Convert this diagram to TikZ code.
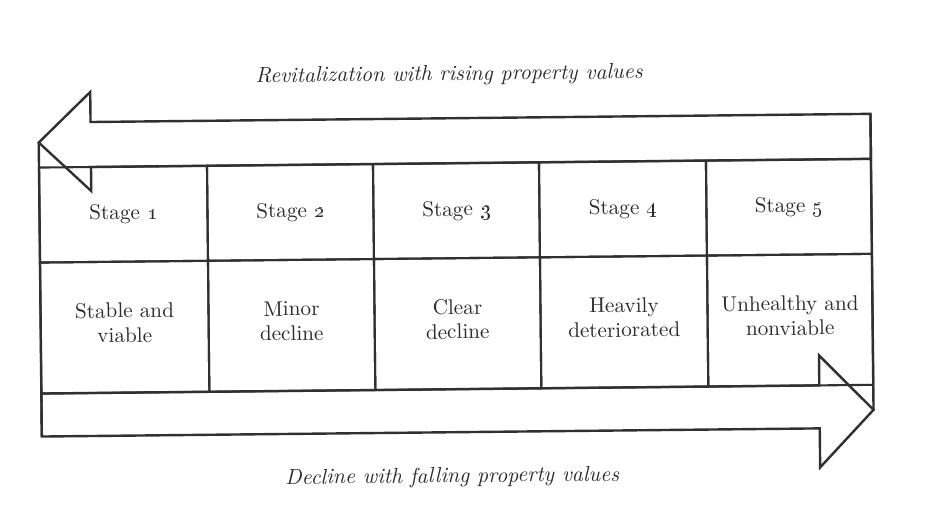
\documentclass[tikz,border=0pt]{standalone}
\definecolor{ink}{HTML}{303030}
\definecolor{txt}{HTML}{2C2C2C}
\begin{document}
\begin{tikzpicture}[x=1pt,y=-1pt,
  outline/.style={draw=ink,line width=2.4pt,line join=miter},
  cell/.style={draw=ink,line width=2.1pt,inner sep=0pt,outer sep=0pt},
  toprow/.style={cell,minimum height=95pt},
  botrow/.style={cell,minimum height=131pt},
  celltext/.style={align=center,text=txt,font=\fontsize{10}{11.6}\selectfont,scale=2.12,inner sep=0pt},
  caption/.style={font=\fontsize{10}{12}\selectfont\itshape,text=txt,scale=2.17,inner sep=0pt}]
\useasboundingbox[fill=white] (0,0) rectangle (948,525);
\begin{scope}[rotate around={0.6:(474,262)},transform shape]
  % cells
  \node[toprow,minimum width=168pt] (s1) at (124,210.5) {};
  \node[toprow,minimum width=166pt] (s2) at (291,210.5) {};
  \node[toprow,minimum width=166pt] (s3) at (457,210.5) {};
  \node[toprow,minimum width=167pt] (s4) at (623.5,210.5) {};
  \node[toprow,minimum width=165pt] (s5) at (789.5,210.5) {};
  \node[botrow,minimum width=168pt] (d1) at (124,323.5) {};
  \node[botrow,minimum width=166pt] (d2) at (291,323.5) {};
  \node[botrow,minimum width=166pt] (d3) at (457,323.5) {};
  \node[botrow,minimum width=167pt] (d4) at (623.5,323.5) {};
  \node[botrow,minimum width=165pt] (d5) at (789.5,323.5) {};
  % cell texts
  \node[celltext] (ts1) at (s1) {Stage \oldstylenums{1}};
  \node[celltext] (ts2) at (s2) {Stage \oldstylenums{2}};
  \node[celltext] (ts3) at (s3) {Stage \oldstylenums{3}};
  \node[celltext] (ts4) at (s4) {Stage \oldstylenums{4}};
  \node[celltext] (ts5) at (s5) {Stage \oldstylenums{5}};
  \node[celltext] (td1) at (124,319) {Stable and\\viable};
  \node[celltext] (td2) at (291,319) {Minor\\decline};
  \node[celltext] (td3) at (457,319) {Clear\\decline};
  \node[celltext] (td4) at (623.5,319) {Heavily\\deteriorated};
  \node[celltext] (td5) at (789.5,319) {Unhealthy and\\nonviable};
  % arrows
  \coordinate (ltip) at (40,138);
  \coordinate (rtip) at (872,414);
  \draw[outline] (ltip) -- (92,88) -- (92,118) -- (872,118) -- (872,163)
     -- (92,163) -- (92,187) -- cycle;
  \draw[outline] (40,389) -- (818,389) -- (818,359) -- (rtip) -- (818,471)
     -- (818,432) -- (40,432) -- cycle;
  \draw[outline] (ltip) -- (40,432);
  \draw[outline] (872,118) -- (rtip);
  % captions
  \node[caption] (rev) at (451,75) {Revitalization with rising property values};
  \node[caption] (dec) at (450,477) {Decline with falling property values};
\end{scope}
\end{tikzpicture}
\end{document}
